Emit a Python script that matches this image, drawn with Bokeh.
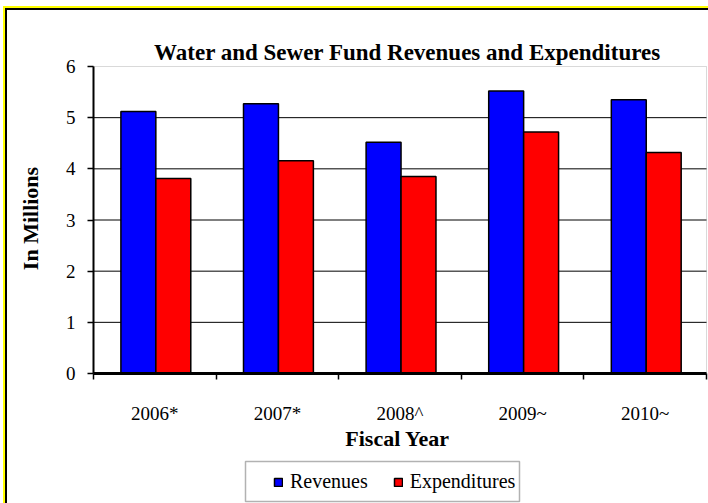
from math import pi
from bokeh.plotting import figure
from bokeh.models import (Range1d, FixedTicker, ColumnDataSource, Legend, LegendItem,
                          Label, BoxAnnotation)
from bokeh.transform import dodge
from bokeh.embed import file_html
from bokeh.resources import INLINE

# ---- data ----
years = ["2006*", "2007*", "2008^", "2009~", "2010~"]
revenues = [5.12, 5.27, 4.52, 5.52, 5.35]
expenditures = [3.81, 4.16, 3.85, 4.72, 4.32]
y_ticks = [0, 1, 2, 3, 4, 5, 6]
title_text = "Water and Sewer Fund Revenues and Expenditures"
y_title = "In Millions"
x_title = "Fiscal Year"
series_names = ["Revenues", "Expenditures"]

FONT = "Liberation Serif"

# ---- layout (pixels on the 708x503 canvas) ----
W, H = 708, 503
PL, PR, PT, PB = 93, 706, 66, 373          # chart area edges
x_lo, x_hi = 0, len(years)
y_lo, y_hi = y_ticks[0], y_ticks[-1]
xs = (x_hi - x_lo) / (PR - PL)             # data units per px
ys = (y_hi - y_lo) / (PB - PT)

xpos = [i + 0.5 for i in range(len(years))]
bounds = [float(i) for i in range(len(years) + 1)]
src = ColumnDataSource(dict(x=xpos, rev=revenues, exp=expenditures))
grid_src = ColumnDataSource(dict(y=y_ticks[1:-1]))

p = figure(width=W, height=H,
           x_range=Range1d(x_lo - PL * xs, x_lo + (W - PL) * xs),
           y_range=Range1d(y_lo - (H - PB) * ys, y_lo + PB * ys),
           output_backend="svg", toolbar_location=None,
           min_border_left=0, min_border_right=0, min_border_top=0, min_border_bottom=0)
p.title.visible = False
p.background_fill_color = "white"
p.border_fill_color = "white"
p.outline_line_color = None
p.grid.visible = False

# chart area outline (grey, top/right visible)
p.add_layout(BoxAnnotation(left=x_lo, right=x_hi, bottom=y_lo, top=y_hi, level="underlay",
                           fill_color=None, line_color="#808080", line_width=1))
# horizontal grid lines
p.segment(x0=x_lo, x1=x_hi, y0="y", y1="y", source=grid_src, line_color="black",
          line_width=1)

r1 = p.vbar(x=dodge("x", -0.134, range=p.x_range), top="rev", width=0.285, source=src,
            fill_color="#0000FF", line_color="black", line_width=1.5)
r2 = p.vbar(x=dodge("x", 0.151, range=p.x_range), top="exp", width=0.285, source=src,
            fill_color="#FF0000", line_color="black", line_width=1.5)

# y axis
yax = p.yaxis[0]
yax.fixed_location = x_lo
yax.bounds = (y_lo, y_hi)
yax.ticker = FixedTicker(ticks=y_ticks)
yax.axis_line_color = "black"
yax.axis_line_width = 2
yax.major_tick_out = 6
yax.major_tick_in = 0
yax.major_tick_line_color = "black"
yax.major_tick_line_width = 1.5
yax.minor_tick_line_color = None
yax.major_label_standoff = 12
yax.major_label_text_font = FONT
yax.major_label_text_font_size = "19px"
yax.major_label_text_color = "black"

# x axis
xax = p.xaxis[0]
xax.fixed_location = y_lo
xax.bounds = (x_lo, x_hi)
xax.ticker = FixedTicker(ticks=xpos, minor_ticks=bounds)
xax.major_label_overrides = {x: y for x, y in zip(xpos, years)}
xax.axis_line_color = "black"
xax.axis_line_width = 3
xax.major_tick_line_color = None
xax.major_tick_out = 0
xax.major_tick_in = 0
xax.minor_tick_line_color = "black"
xax.minor_tick_line_width = 1.5
xax.minor_tick_out = 6
xax.minor_tick_in = 0
xax.major_label_standoff = 23
xax.major_label_text_font = FONT
xax.major_label_text_font_size = "19px"
xax.major_label_text_color = "black"

# texts (screen px from bottom-left)
p.add_layout(Label(x=407, y=H - 52, x_units="screen", y_units="screen", text=title_text,
                   text_align="center", text_baseline="middle", text_font=FONT,
                   text_font_style="bold", text_font_size="23px", text_color="black"))
p.add_layout(Label(x=30, y=H - 218, x_units="screen", y_units="screen", text=y_title,
                   angle=pi / 2, text_align="center", text_baseline="middle",
                   text_font=FONT, text_font_style="bold", text_font_size="22px",
                   text_color="black"))
p.add_layout(Label(x=397, y=H - 438, x_units="screen", y_units="screen", text=x_title,
                   text_align="center", text_baseline="middle", text_font=FONT,
                   text_font_style="bold", text_font_size="22px", text_color="black"))

# legend box + legend
p.add_layout(BoxAnnotation(left=245, right=519, top=H - 461, bottom=H - 501,
                           left_units="screen", right_units="screen",
                           top_units="screen", bottom_units="screen",
                           fill_color="white", line_color="black", line_width=1.5))
legend = Legend(items=[LegendItem(label=series_names[0], renderers=[r1]),
                       LegendItem(label=series_names[1], renderers=[r2])],
                orientation="horizontal", location=(273, 10))
legend.border_line_color = None
legend.background_fill_alpha = 0
legend.padding = 0
legend.margin = 0
legend.spacing = 25
legend.glyph_width = 10
legend.glyph_height = 10
legend.label_standoff = 7
legend.label_height = 20
legend.label_text_font = FONT
legend.label_text_font_size = "20px"
legend.label_text_color = "black"
p.add_layout(legend, "center")

# page decoration: the chart's yellow/black outer frame (top and left edges)
page_css = """
{% block preamble %}
<style>
  body::before, body::after { content: ""; position: fixed; right: -20px; bottom: -20px;
                              z-index: 10; pointer-events: none; }
  body::before { left: 3px; top: 6px; border-left: 2px solid #FFFF00; border-top: 2px solid #FFFF00; }
  body::after  { left: 5px; top: 8px; border-left: 2px solid #000000; border-top: 2px solid #000000; }
</style>
{% endblock %}
"""

open("out.html", "w").write(file_html(p, INLINE, template=page_css))
